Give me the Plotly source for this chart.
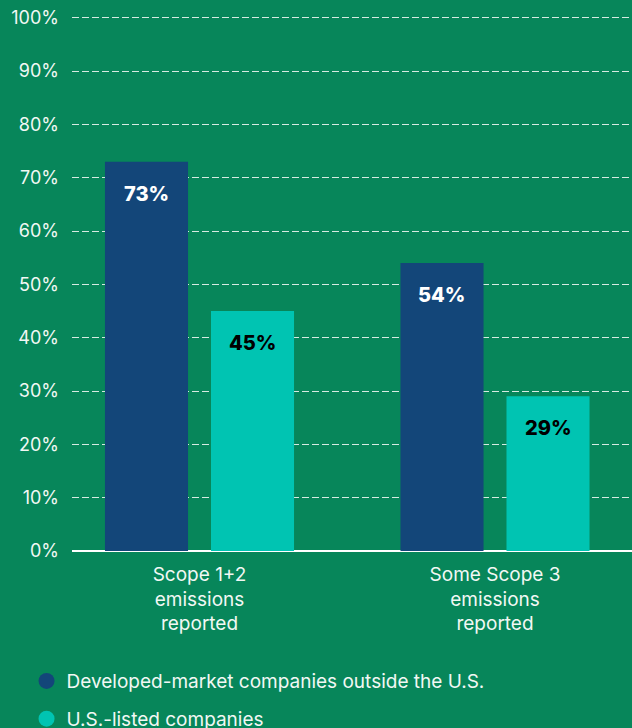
import plotly.graph_objects as go

# Share of companies reporting emissions, by scope and market
categories = ["Scope 1+2<br>emissions<br>reported", "Some Scope 3<br>emissions<br>reported"]
series_names = ["Developed-market companies outside the U.S.", "U.S.-listed companies"]
developed_values = [73, 54]
us_values = [45, 29]
y_ticks = [0, 10, 20, 30, 40, 50, 60, 70, 80, 90, 100]
y_tick_labels = [f"{v}%" for v in y_ticks]

BG = "#07865a"
NAVY = "#134679"
TEAL = "#00c4b2"
FONT = "Inter"
TEXT = "#f2f8f4"

fig = go.Figure()

series = [
    (series_names[0], developed_values, NAVY, "white"),
    (series_names[1], us_values, TEAL, "black"),
]

for name, vals, color, _ in series:
    fig.add_trace(go.Bar(
        x=categories, y=vals, name=name,
        marker=dict(color=color, line=dict(width=0)),
        showlegend=False, hoverinfo="skip",
    ))

# circular legend swatches
for name, vals, color, _ in series:
    fig.add_trace(go.Scatter(
        x=[None], y=[None], mode="markers", name=name,
        marker=dict(color=color, size=18, symbol="circle"),
        legendgroup=name,
    ))

# value labels inside the top of each bar
offsets = [-0.1794, 0.1794]
for (name, vals, color, txtcolor), off in zip(series, offsets):
    for i, v in enumerate(vals):
        fig.add_annotation(
            x=i + off, y=v, xref="x", yref="y",
            text=f"{v}%", showarrow=False, yshift=-32,
            font=dict(family=FONT, size=20, color=txtcolor, weight=800),
        )

fig.update_layout(
    width=632, height=728,
    paper_bgcolor=BG, plot_bgcolor=BG,
    margin=dict(l=72, r=0, t=15, b=177, autoexpand=False),
    barmode="group", bargap=0.2825, bargroupgap=0.2166,
    font=dict(family=FONT, color=TEXT),
    legend=dict(
        xref="container", yref="container",
        x=0.042, y=0.0905, xanchor="left", yanchor="top",
        orientation="v", traceorder="grouped", tracegroupgap=10,
        font=dict(family=FONT, size=19, color=TEXT),
        bgcolor="rgba(0,0,0,0)", itemwidth=30,
    ),
    xaxis=dict(
        type="category", range=[-0.4315, 1.4636],
        showgrid=False, zeroline=False, showline=False,
        tickfont=dict(family=FONT, size=19, color=TEXT),
        ticks="", ticklabelstandoff=10,
    ),
    yaxis=dict(
        range=[0, 100.5], tickvals=y_ticks, ticktext=y_tick_labels,
        showgrid=True, gridcolor="rgba(238,245,241,0.9)", griddash="7px,3px", gridwidth=1,
        zeroline=True, zerolinecolor="white", zerolinewidth=2,
        tickfont=dict(family=FONT, size=18, color=TEXT),
        ticks="", ticklabelstandoff=12,
    ),
)

fig.write_html("out.html")
